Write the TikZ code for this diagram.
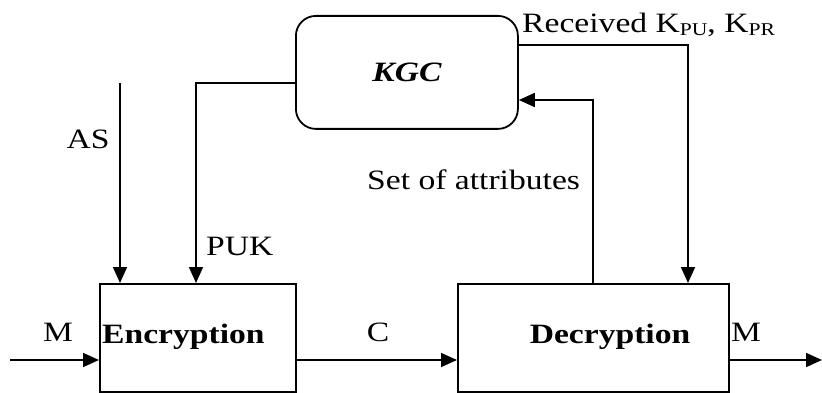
\documentclass[tikz,border=0pt]{standalone}
\usepackage{fontspec}
\setmainfont{Liberation Serif}[FakeStretch=1.2]
\usetikzlibrary{arrows.meta}
\begin{document}
\begin{tikzpicture}[x=1pt,y=-1pt,
  blk/.style={draw, line width=1.8pt, anchor=north west, inner sep=0pt},
  lbl/.style={font=\fontsize{28}{30}\selectfont, inner sep=0pt},
  blbl/.style={font=\fontsize{28}{30}\selectfont\bfseries, inner sep=0pt},
  conn/.style={line width=1.8pt},
  arr/.style={conn, -{Triangle[length=16pt,width=14pt]}}]
\useasboundingbox (0,0) rectangle (822,393);
% blocks
\node[blk, rounded corners=20pt, minimum width=222pt, minimum height=113pt] (kgc) at (295,15) {};
\node[blk, minimum width=196pt, minimum height=108pt] (enc) at (99,283) {};
\node[blk, minimum width=271pt, minimum height=108pt] (dec) at (457,283) {};
% block texts
\node[blbl, font=\fontsize{28}{30}\selectfont\bfseries\itshape] (kgct) at (407,72) {KGC};
\node[blbl, anchor=west] (enct) at (102,337) {Encryption};
\node[blbl] (dect) at (610,337) {Decryption};
% coordinates
\coordinate (min) at (10,360);
\coordinate (mout) at (822,360);
\coordinate (astop) at (120,83);
\coordinate (pukx) at (196,200);
\coordinate (setx) at (593,100);
\coordinate (rx) at (688,45);
% connectors
\draw[arr] (min) -- (min -| enc.west);
\draw[arr] (enc.east |- min) -- (dec.west |- min);
\draw[arr] (dec.east |- min) -- (mout);
\draw[arr] (astop) -- (astop |- enc.north);
\draw[arr] (kgc.west |- astop) -| (pukx |- enc.north);
\draw[arr] (setx |- dec.north) |- (kgc.east |- setx);
\draw[arr] (kgc.east |- rx) -| (rx |- dec.north);
% labels
\node[lbl] (mlab) at (58,332) {M};
\node[lbl] (clab) at (378,332) {C};
\node[lbl, anchor=west] (moutlab) at (731,332) {M};
\node[lbl] (aslab) at (88,139) {AS};
\node[lbl, anchor=west] (puklab) at (206,246) {PUK};
\node[lbl, anchor=west] (setlab) at (367,180) {Set of attributes};
\node[lbl, anchor=west] (reclab) at (522,25) {Received K\raisebox{-0.25ex}{\fontsize{18}{20}\selectfont PU}, K\raisebox{-0.25ex}{\fontsize{18}{20}\selectfont PR}};
\end{tikzpicture}
\end{document}
